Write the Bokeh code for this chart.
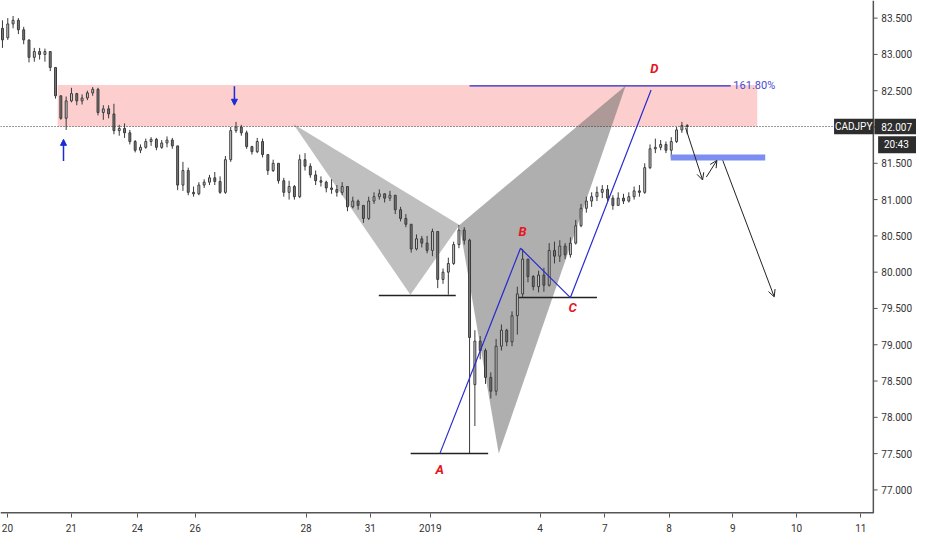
from bokeh.plotting import figure
from bokeh.models import Range1d, FixedTicker, Arrow, OpenHead, NormalHead
from bokeh.core.properties import value
from bokeh.embed import file_html
from bokeh.resources import INLINE

symbol = "CADJPY"
last_price = 82.007
countdown = "20:43"

opens = [83.36, 83.23, 83.42, 83.47, 83.34, 83.20, 82.96, 83.04, 83.00, 83.04,
         82.82, 82.43, 82.12, 82.36, 82.46, 82.36, 82.40, 82.47, 82.52, 82.20,
         82.25, 82.18, 81.95, 81.98, 81.92, 81.80, 81.68, 81.72, 81.80, 81.83,
         81.72, 81.78, 81.82, 81.74, 81.20, 81.40, 81.10, 81.08, 81.20, 81.24,
         81.30, 81.25, 81.10, 81.55, 81.95, 82.00, 81.92, 81.73, 81.66, 81.80,
         81.62, 81.40, 81.50, 81.26, 81.10, 81.18, 81.04, 81.55, 81.46, 81.34,
         81.26, 81.24, 81.16, 81.14, 81.10, 81.18, 80.90, 80.98, 80.92, 80.74,
         80.98, 81.04, 81.08, 81.02, 81.06, 80.86, 80.74, 80.66, 80.32, 80.46,
         80.40, 80.30, 80.56, 79.90, 80.00, 80.12, 80.38, 80.58, 80.44, 78.45,
         79.05, 78.92, 78.55, 78.36, 78.98, 79.20, 79.04, 79.40, 79.70, 80.18,
         79.94, 79.80, 79.96, 79.82, 80.30, 80.22, 80.36, 80.24, 80.40, 80.64,
         80.88, 80.98, 81.04, 81.10, 81.14, 81.02, 80.92, 81.02, 80.98, 81.04,
         81.12, 81.10, 81.44, 81.70, 81.72, 81.76, 81.68, 81.80, 81.96, 82.02]
highs = [83.47, 83.50, 83.53, 83.50, 83.38, 83.20, 83.09, 83.09, 83.08, 83.04,
         82.82, 82.43, 82.42, 82.54, 82.47, 82.45, 82.50, 82.55, 82.54, 82.30,
         82.30, 82.32, 82.03, 82.05, 81.96, 81.82, 81.76, 81.84, 81.86, 81.85,
         81.82, 81.87, 81.85, 81.74, 81.52, 81.44, 81.18, 81.24, 81.28, 81.34,
         81.38, 81.32, 81.60, 82.00, 82.07, 82.03, 81.95, 81.74, 81.85, 81.84,
         81.62, 81.55, 81.50, 81.30, 81.26, 81.20, 81.62, 81.64, 81.50, 81.40,
         81.32, 81.26, 81.28, 81.20, 81.24, 81.18, 81.04, 81.00, 80.92, 81.04,
         81.10, 81.14, 81.08, 81.12, 81.06, 80.90, 80.80, 80.66, 80.52, 80.50,
         80.50, 80.60, 80.56, 80.05, 80.20, 80.42, 80.65, 80.62, 80.46, 79.20,
         79.12, 78.95, 78.62, 79.08, 79.28, 79.22, 79.46, 79.80, 80.32, 80.18,
         79.96, 80.02, 80.06, 80.40, 80.42, 80.44, 80.40, 80.48, 80.72, 80.94,
         81.04, 81.10, 81.18, 81.20, 81.20, 81.06, 81.10, 81.08, 81.10, 81.18,
         81.20, 81.50, 81.76, 81.84, 81.82, 81.80, 81.86, 82.00, 82.07, 82.04]
lows = [83.09, 83.20, 83.36, 83.28, 83.14, 82.89, 82.90, 82.93, 82.90, 82.77,
        82.39, 82.10, 81.96, 82.34, 82.30, 82.31, 82.37, 82.43, 82.16, 82.10,
        82.12, 81.90, 81.88, 81.85, 81.76, 81.65, 81.64, 81.70, 81.74, 81.68,
        81.70, 81.72, 81.70, 81.13, 81.12, 81.06, 81.04, 81.06, 81.16, 81.20,
        81.20, 81.08, 81.08, 81.52, 81.92, 81.88, 81.70, 81.62, 81.64, 81.58,
        81.34, 81.38, 81.22, 81.04, 81.00, 81.00, 81.02, 81.40, 81.30, 81.20,
        81.18, 81.10, 81.08, 81.04, 81.06, 80.84, 80.88, 80.86, 80.68, 80.72,
        80.94, 81.00, 80.96, 80.98, 80.80, 80.70, 80.62, 80.27, 80.30, 80.34,
        80.26, 80.22, 79.78, 79.84, 79.69, 80.10, 80.33, 80.38, 77.50, 77.88,
        78.80, 78.46, 78.26, 78.30, 78.92, 78.98, 78.98, 79.14, 79.66, 79.86,
        79.75, 79.72, 79.73, 79.80, 80.12, 80.14, 80.18, 80.20, 80.38, 80.62,
        80.82, 80.90, 80.98, 81.02, 80.98, 80.86, 80.92, 80.94, 80.96, 81.00,
        81.04, 81.08, 81.42, 81.64, 81.68, 81.64, 81.58, 81.78, 81.92, 81.90]
closes = [83.20, 83.42, 83.47, 83.34, 83.20, 82.96, 83.04, 83.00, 83.04, 82.82,
          82.43, 82.12, 82.36, 82.46, 82.36, 82.40, 82.47, 82.52, 82.20, 82.25,
          82.18, 81.95, 81.98, 81.92, 81.80, 81.68, 81.72, 81.80, 81.83, 81.72,
          81.78, 81.82, 81.74, 81.20, 81.40, 81.10, 81.08, 81.20, 81.24, 81.30,
          81.25, 81.10, 81.55, 81.95, 82.00, 81.92, 81.73, 81.66, 81.80, 81.62,
          81.40, 81.50, 81.26, 81.10, 81.18, 81.04, 81.55, 81.46, 81.34, 81.26,
          81.24, 81.16, 81.14, 81.10, 81.18, 80.90, 80.98, 80.92, 80.74, 80.98,
          81.04, 81.08, 81.02, 81.06, 80.86, 80.74, 80.66, 80.32, 80.46, 80.40,
          80.30, 80.56, 79.90, 80.00, 80.12, 80.38, 80.58, 80.44, 79.10, 79.05,
          78.92, 78.55, 78.36, 78.98, 79.20, 79.04, 79.40, 79.70, 80.18, 79.94,
          79.80, 79.96, 79.82, 80.30, 80.22, 80.36, 80.24, 80.40, 80.64, 80.88,
          80.98, 81.04, 81.10, 81.14, 81.02, 80.92, 81.02, 80.98, 81.04, 81.12,
          81.10, 81.44, 81.70, 81.72, 81.76, 81.68, 81.80, 81.96, 82.02, 82.007]

price_ticks = [77.0, 77.5, 78.0, 78.5, 79.0, 79.5, 80.0, 80.5, 81.0, 81.5,
               82.0, 82.5, 83.0, 83.5]
date_tick_pos = [0.93, 12.96, 25.4, 36.3, 57.2, 69.3, 80.6, 101.3, 113.5,
                 125.6, 137.6, 149.6, 161.7]
date_tick_labels = ["20", "21", "24", "26", "28", "31", "2019", "4", "7",
                    "8", "9", "10", "11"]

# supply zone
zone_left, zone_right = 10.4, 142.2
zone_bottom, zone_top = 82.007, 82.58

# harmonic XABCD (grey triangles)
harm_x = [54.8, 76.85, 86.1, 93.5, 117.4]
harm_y = [82.04, 79.69, 80.65, 77.50, 82.57]

# ABCD (blue)
abcd_x = [82.4, 97.6, 107.0, 122.2]
abcd_y = [77.50, 80.33, 79.65, 82.51]
abcd_names = ["A", "B", "C", "D"]
abcd_label_x = [82.4, 98.0, 107.4, 122.8]
abcd_label_y = [77.28, 80.56, 79.51, 82.81]

fib_level = 82.567
fib_x0, fib_x1 = 88.0, 137.2
fib_text = "161.80%"

# level lines (black)
lvl_x0 = [70.9, 76.9, 97.2]
lvl_x1 = [85.4, 91.5, 112.0]
lvl_y = [79.68, 77.50, 79.65]

# blue support bar
sup_x0, sup_x1, sup_y = 125.9, 143.7, 81.58

# projected path arrows
proj_x0 = [128.7, 132.6, 135.7]
proj_y0 = [81.99, 81.31, 81.54]
proj_x1 = [131.9, 134.6, 145.4]
proj_y1 = [81.27, 81.54, 79.66]

# blue marker arrows
mark_x = [11.5, 43.7]
mark_y0 = [81.53, 82.56]
mark_y1 = [81.83, 82.30]

# layout in slot units (one slot = one candle)
x_lo, x_hi = -0.37, 172.2
axis_x = 164.07          # price scale border
y_lo, y_hi = 76.675, 83.743

FONT = "Roboto"
AXC = "#555555"
TAG = "#2d2d2d"

p = figure(width=916, height=534, output_backend="svg", toolbar_location=None,
           x_range=Range1d(x_lo, x_hi), y_range=Range1d(y_lo, y_hi),
           y_axis_location=None, min_border=0)
p.background_fill_color = "#ffffff"
p.border_fill_color = "#ffffff"
p.outline_line_color = None
p.grid.visible = False

ax = p.xaxis[0]
ax.axis_line_color = None
ax.major_tick_line_color = AXC
ax.major_tick_out = 4
ax.major_tick_in = 0
ax.minor_tick_line_color = None
ax.major_label_text_font = FONT
ax.major_label_text_font_size = "10px"
ax.major_label_text_color = "#333333"
ax.major_label_standoff = 6
ax.ticker = FixedTicker(ticks=date_tick_pos)
ax.major_label_overrides = {pos: lab for pos, lab in zip(date_tick_pos, date_tick_labels)}

# zone
p.quad(left=[zone_left], right=[zone_right], bottom=[zone_bottom], top=[zone_top],
       fill_color="#fcc9c9", fill_alpha=0.9, line_color=None)

# harmonic triangles
tri_xs = [[harm_x[0], harm_x[1], harm_x[2]], [harm_x[2], harm_x[3], harm_x[4]]]
tri_ys = [[harm_y[0], harm_y[1], harm_y[2]], [harm_y[2], harm_y[3], harm_y[4]]]
p.patches(tri_xs, tri_ys, fill_color=["#8a8a8a", "#6e6e6e"], fill_alpha=0.55,
          line_color=None)

# candles
xs = list(range(len(closes)))
up = [c >= o for o, c in zip(opens, closes)]
p.segment(x0=xs, y0=lows, x1=xs, y1=highs, line_color="#3a3a3a", line_width=1)
ux = [x for x, u in zip(xs, up) if u]
dx = [x for x, u in zip(xs, up) if not u]
p.vbar(x=ux, width=0.36,
       top=[c for c, u in zip(closes, up) if u], bottom=[o for o, u in zip(opens, up) if u],
       fill_color="#d2d2d2", line_color="#3a3a3a", line_width=1)
p.vbar(x=dx, width=0.36,
       top=[o for o, u in zip(opens, up) if not u], bottom=[c for c, u in zip(closes, up) if not u],
       fill_color="#7c7c7c", line_color="#3a3a3a", line_width=1)

# last price dotted line
p.segment(x0=[x_lo], y0=[last_price], x1=[axis_x], y1=[last_price],
          line_color="#333333", line_dash="1 2", line_width=1)

# level lines
p.segment(x0=lvl_x0, y0=lvl_y, x1=lvl_x1, y1=lvl_y, line_color="#222222", line_width=1.5)

# ABCD
p.line(abcd_x, abcd_y, line_color="#2b2bd0", line_width=1.2)
p.segment(x0=[fib_x0], y0=[fib_level], x1=[fib_x1], y1=[fib_level],
          line_color="#2b2bd0", line_width=1.2)
p.text(x=[fib_x1 + 0.5], y=[fib_level], text=[fib_text], text_color="#4a4ad8",
       text_font=value(FONT), text_font_size="11px", text_align="left",
       text_baseline="middle")
p.text(x=abcd_label_x, y=abcd_label_y, text=abcd_names, text_color="#e5161e",
       text_font=value(FONT), text_font_style="bold italic", text_font_size="13px",
       text_align="center", text_baseline="middle")

# support bar
p.segment(x0=[sup_x0], y0=[sup_y], x1=[sup_x1], y1=[sup_y], line_color="#7d8ef2",
          line_width=6)

# projected arrows
for a, b, c, d in zip(proj_x0, proj_y0, proj_x1, proj_y1):
    p.add_layout(Arrow(end=OpenHead(size=7, line_color="#222222", line_width=1),
                       x_start=a, y_start=b, x_end=c, y_end=d,
                       line_color="#222222", line_width=1))

# blue marker arrows
for mx, a, b in zip(mark_x, mark_y0, mark_y1):
    p.add_layout(Arrow(end=NormalHead(size=6, fill_color="#1a2bd8", line_color="#1a2bd8"),
                       x_start=mx, y_start=a, x_end=mx, y_end=b,
                       line_color="#1a2bd8", line_width=1.5))

# price scale (drawn on the right part of the canvas)
p.quad(left=[axis_x], right=[x_hi], bottom=[y_lo], top=[y_hi],
       fill_color="#ffffff", line_color=None)
p.segment(x0=[axis_x], y0=[y_lo], x1=[axis_x], y1=[y_hi], line_color=AXC, line_width=1.5)
p.segment(x0=[x_lo], y0=[y_lo], x1=[axis_x], y1=[y_lo], line_color=AXC, line_width=3)
p.segment(x0=[axis_x] * len(price_ticks), y0=price_ticks,
          x1=[axis_x + 0.8] * len(price_ticks), y1=price_ticks,
          line_color=AXC, line_width=1)
p.text(x=[axis_x + 1.5] * len(price_ticks), y=price_ticks,
       text=[f"{t:.3f}" for t in price_ticks], text_color="#333333",
       text_font=value(FONT), text_font_size="10px", text_align="left",
       text_baseline="middle")

# price tags
tag_h = 0.108
p.quad(left=[axis_x - 7.4, axis_x + 0.2], right=[axis_x, x_hi],
       bottom=[last_price - tag_h] * 2, top=[last_price + tag_h] * 2,
       fill_color=TAG, line_color=None)
p.quad(left=[axis_x + 0.9], right=[x_hi], bottom=[last_price - 0.37],
       top=[last_price - 0.135], fill_color=TAG, line_color=None)
p.text(x=[axis_x - 3.7, axis_x + 1.5, axis_x + 2.0],
       y=[last_price, last_price, last_price - 0.2525],
       text=[symbol, f"{last_price:.3f}", countdown], text_color="white",
       text_font=value(FONT), text_font_size="10px",
       text_align=["center", "left", "left"], text_baseline="middle")

open("out.html", "w").write(file_html(p, INLINE))
